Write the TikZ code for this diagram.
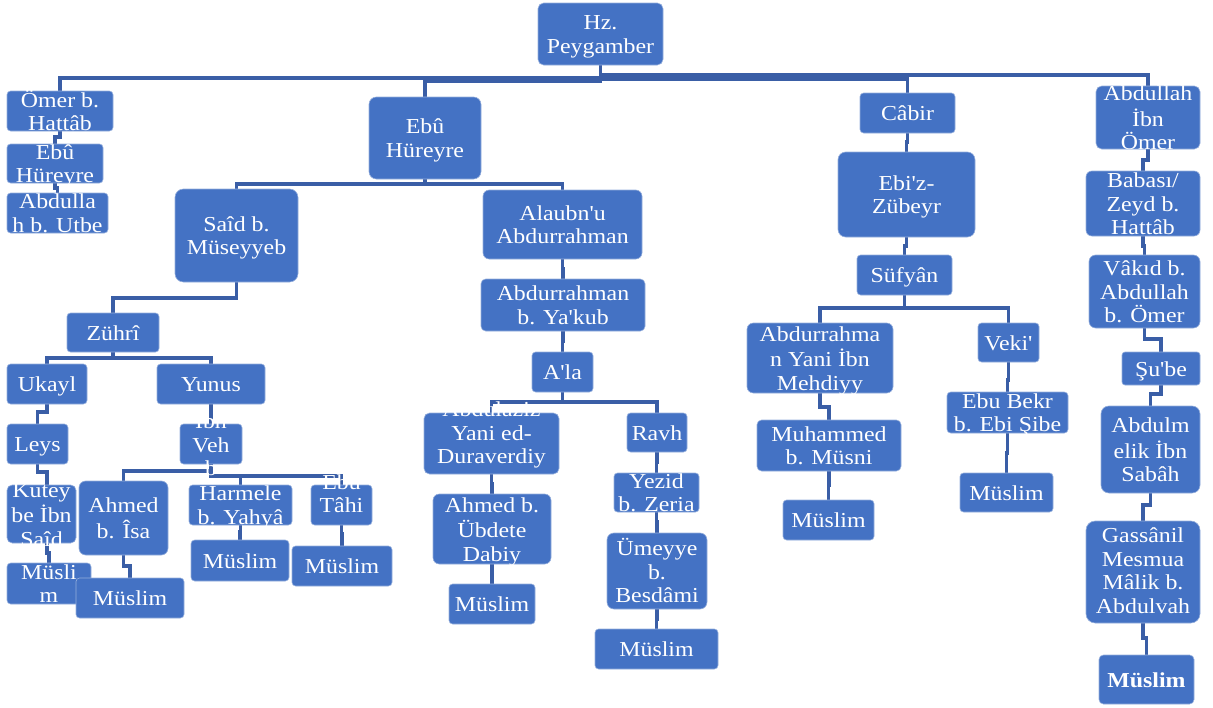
\documentclass[tikz,border=0pt]{standalone}
\usepackage{fontspec}
\setmainfont{Liberation Serif}[FakeStretch=1.12,Ligatures=TeXOff]
\usetikzlibrary{calc}
\pgfdeclarelayer{background}
\pgfsetlayers{background,main}
\definecolor{boxblue}{HTML}{4472C4}
\definecolor{lineblue}{RGB}{58,94,166}
\definecolor{edgeblue}{RGB}{150,175,220}
\newcommand\bx[7]{%
  \pgfmathsetmacro\bw{#4-#2}\pgfmathsetmacro\bh{#5-#3}%
  \pgfmathsetmacro\br{min(\bw,\bh)*0.09}%
  \node[boxst, minimum width=\bw pt, minimum height=\bh pt, rounded corners=\br pt] (#1) at ({(#2+#4)/2},{(#3+#5)/2}) {};
  \node[txt, yshift={#7pt-3pt}] at (#1.center) {\strut #6\strut};}
\newcommand\elb[3]{\draw[conn] (#1.south) -- ++(0,#3) -| (#2.north);}
\begin{document}
\begin{tikzpicture}[x=1pt,y=-1pt,
  boxst/.style={fill=boxblue,draw=edgeblue,line width=0.6pt,inner sep=0pt,outer sep=0pt},
  txt/.style={text=white,align=center,inner sep=0pt,font=\fontsize{21.3}{23.5}\selectfont},
  conn/.style={draw=lineblue,line width=3.1pt}]
\useasboundingbox (0,0) rectangle (1213,707);
% top
\bx{hz}{538}{3}{663}{65}{Hz.\\Peygamber}{0}
% left column
\bx{omer}{7}{91}{113}{131}{Ömer b.\\Hattâb}{0}
\bx{ebua}{7}{144}{103}{183}{Ebû\\Hüreyre}{0}
\bx{utbe}{7}{193}{108}{233}{Abdulla\\h b. Utbe}{0}
% Ebu Hureyre branch
\bx{ebub}{369}{97}{481}{179}{Ebû\\Hüreyre}{0}
\bx{said}{175}{189}{298}{282}{Saîd b.\\Müseyyeb}{0}
\bx{alaubn}{483}{190}{642}{259}{Alaubn'u\\Abdurrahman}{0}
\bx{zuhri}{67}{313}{159}{352}{Zührî}{0}
\bx{ukayl}{7}{364}{87}{404}{Ukayl}{0}
\bx{yunus}{157}{364}{265}{404}{Yunus}{0}
\bx{leys}{7}{424}{68}{464}{Leys}{0}
\bx{ibnveh}{180}{424}{242}{464}{İbn\\Veh\\b}{0}
\bx{kut}{7}{485}{76}{543}{Kutey\\be İbn\\Saîd}{0}
\bx{musa}{7}{563}{91}{604}{Müsli\\m}{0}
\bx{ahmed}{79}{481}{168}{555}{Ahmed\\b. Îsa}{0}
\bx{harmele}{189}{485}{292}{525}{Harmele\\b. Yahyâ}{0}
\bx{tahi}{311}{485}{372}{525}{Ebu\\Tâhi}{11.5}
\bx{musb}{76}{578}{184}{618}{Müslim}{0}
\bx{musc}{191}{540}{289}{581}{Müslim}{0}
\bx{musd}{292}{546}{392}{586}{Müslim}{0}
\bx{yakub}{481}{279}{645}{331}{Abdurrahman\\b. Ya'kub}{0}
\bx{ala}{532}{352}{593}{392}{A'la}{0}
\bx{aziz}{424}{413}{559}{474}{Abdulaziz\\Yani ed-\\Duraverdiy}{11}
\bx{ravh}{627}{413}{687}{452}{Ravh}{0}
\bx{ubdete}{433}{494}{551}{564}{Ahmed b.\\Übdete\\Dabiy}{0}
\bx{muse}{449}{584}{535}{624}{Müslim}{0}
\bx{yezid}{614}{473}{699}{512}{Yezid\\b. Zeria}{0}
\bx{umeyye}{607}{533}{707}{609}{Ümeyye\\b.\\Besdâmi}{0}
\bx{musf}{595}{629}{718}{669}{Müslim}{0}
% Cabir branch
\bx{cabir}{860}{93}{955}{133}{Câbir}{0}
\bx{zubeyr}{838}{152}{975}{237}{Ebi'z-\\Zübeyr}{0}
\bx{sufyan}{857}{255}{952}{295}{Süfyân}{0}
\bx{mehdi}{747}{323}{893}{393}{Abdurrahma\\n Yani İbn\\Mehdiyy}{0}
\bx{veki}{978}{323}{1039}{362}{Veki'}{0}
\bx{muham}{757}{420}{901}{471}{Muhammed\\b. Müsni}{0}
\bx{musg}{783}{500}{874}{540}{Müslim}{0}
\bx{bekr}{947}{392}{1068}{433}{Ebu Bekr\\b. Ebi Şibe}{0}
\bx{mush}{960}{473}{1053}{512}{Müslim}{0}
% Abdullah branch
\bx{abdomer}{1096}{86}{1200}{149}{Abdullah\\İbn\\Ömer}{0}
\bx{babasi}{1086}{171}{1200}{236}{Babası/\\Zeyd b.\\Hattâb}{0}
\bx{vakid}{1089}{255}{1200}{328}{Vâkıd b.\\Abdullah\\b. Ömer}{0}
\bx{shube}{1122}{352}{1200}{385}{Şu'be}{0}
\bx{melik}{1101}{406}{1200}{493}{Abdulm\\elik İbn\\Sabâh}{0}
\bx{gassani}{1086}{521}{1200}{623}{Gassânil\\Mesmua\\Mâlik b.\\Abdulvah}{1.5}
\bx{musi}{1099}{655}{1194}{704}{\bfseries Müslim}{0}
\begin{pgfonlayer}{background}
\elb{hz}{omer}{13}
\elb{hz}{ebub}{16}
\elb{hz}{cabir}{14}
\elb{hz}{abdomer}{10}
\elb{omer}{ebua}{6}
\elb{ebua}{utbe}{5}
\elb{ebub}{said}{5}
\elb{ebub}{alaubn}{5}
\elb{said}{zuhri}{16}
\elb{zuhri}{ukayl}{6}
\elb{zuhri}{yunus}{6}
\elb{ukayl}{leys}{8}
\draw[conn] (leys.south) -- ++(0,8) -| ($(kut.north)+(5.5,0)$);
\draw[conn] ($(kut.south)+(5.5,0)$) -- ++(0,10) -| (musa.north);
\elb{yunus}{ibnveh}{10}
\elb{ibnveh}{ahmed}{7}
\elb{ibnveh}{harmele}{12}
\elb{ibnveh}{tahi}{12}
\elb{ahmed}{musb}{11}
\elb{harmele}{musc}{7}
\elb{tahi}{musd}{9}
\elb{alaubn}{yakub}{10}
\elb{yakub}{ala}{10}
\elb{ala}{aziz}{10}
\elb{ala}{ravh}{10}
\elb{aziz}{ubdete}{10}
\elb{ubdete}{muse}{10}
\elb{ravh}{yezid}{10}
\elb{yezid}{umeyye}{10}
\elb{umeyye}{musf}{10}
\elb{cabir}{zubeyr}{9}
\elb{zubeyr}{sufyan}{9}
\elb{sufyan}{mehdi}{13}
\elb{sufyan}{veki}{13}
\elb{mehdi}{muham}{14}
\elb{muham}{musg}{14}
\elb{veki}{bekr}{18}
\elb{bekr}{mush}{20}
\elb{abdomer}{babasi}{11}
\elb{babasi}{vakid}{10}
\elb{vakid}{shube}{11}
\elb{shube}{melik}{9}
\elb{melik}{gassani}{12}
\elb{gassani}{musi}{15}
\end{pgfonlayer}
\end{tikzpicture}
\end{document}
